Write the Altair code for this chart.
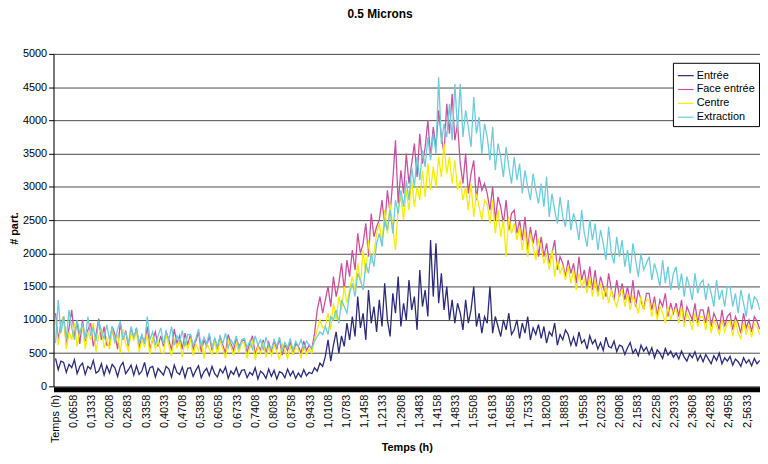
import altair as alt
import pandas as pd

FONT = "Liberation Sans, Arial, sans-serif"

series_names = ["Entrée", "Face entrée", "Centre", "Extraction"]
series_colors = ["#2A2A78", "#C8509F", "#F5EC00", "#6CCBDC"]

tick_labels = ["Temps (h)", "0,0658", "0,1333", "0,2008", "0,2683", "0,3358", "0,4033",
               "0,4708", "0,5383", "0,6058", "0,6733", "0,7408", "0,8083", "0,8758",
               "0,9433", "1,0108", "1,0783", "1,1458", "1,2133", "1,2808", "1,3483",
               "1,4158", "1,4833", "1,5508", "1,6183", "1,6858", "1,7533", "1,8208",
               "1,8883", "1,9558", "2,0233", "2,0908", "2,1583", "2,2258", "2,2933",
               "2,3608", "2,4283", "2,4958", "2,5633"]
header_pos = -0.0017

entree = [
    420, 250, 380, 360, 210, 330, 280, 400, 190, 300,
    350, 180, 300, 260, 390, 200, 230, 340, 170, 310,
    200, 330, 280, 150, 300, 360, 190, 250, 320, 170,
    310, 180, 230, 360, 160, 280, 300, 140, 270, 220,
    170, 300, 260, 140, 320, 210, 180, 290, 130, 270,
    280, 150, 240, 310, 130, 220, 270, 160, 300, 190,
    140, 260, 200, 290, 120, 230, 180, 280, 150, 240,
    250, 130, 210, 170, 280, 110, 230, 190, 120, 260,
    150, 240, 110, 220, 200, 130, 260, 160, 230, 120,
    200, 140, 250, 160, 210, 190, 280, 230, 350, 300,
    450, 700, 380, 620, 820, 500, 760, 600, 950, 700,
    1050, 750, 1350, 880, 1100, 700, 1450, 950, 1200, 820,
    1300, 900, 1550, 1000, 750, 1400, 1100, 1650, 900, 1250,
    1000, 1600, 1150, 1350, 850, 1750, 1200, 1450, 1050, 2200,
    1350, 2150, 1250, 1700, 1150, 1500, 1000, 1300, 950, 1250,
    1100, 850, 1300, 950, 1150, 1500, 900, 1100, 800, 1050,
    950, 1500, 800, 1050, 900, 750, 1000, 850, 1100, 780,
    850, 1000, 720, 950, 800, 1050, 700, 880, 780, 930,
    720, 900, 650, 820, 760, 950, 620, 780, 700, 850,
    780, 620, 740, 600, 820, 650, 700, 560, 760, 640,
    700, 560, 660, 540, 740, 600, 580, 680, 520, 620,
    600, 480, 580, 660, 500, 560, 460, 620, 530, 590,
    480, 580, 430, 550, 500, 420, 570, 470, 530, 440,
    500, 410, 530, 440, 380, 490, 430, 520, 390, 470,
    370, 480, 410, 340, 460, 390, 500, 340, 430, 380,
    450, 320, 410, 370, 300, 430, 350, 400, 310, 420,
    340, 390,
]

face_entree = [
    1100, 700, 950, 1050, 620, 880, 1150, 750, 980, 640,
    1000, 680, 850, 950, 600, 780, 1020, 700, 900, 620,
    620, 900, 780, 560, 950, 700, 840, 600, 880, 720,
    880, 580, 760, 650, 900, 560, 700, 820, 600, 760,
    600, 820, 700, 540, 860, 650, 760, 560, 800, 620,
    780, 560, 680, 820, 520, 700, 600, 760, 540, 720,
    560, 740, 620, 500, 780, 640, 540, 720, 600, 680,
    700, 520, 640, 760, 480, 620, 540, 700, 500, 660,
    520, 680, 560, 720, 470, 620, 540, 660, 480, 640,
    600, 500, 680, 540, 620, 560, 800, 1150, 1350, 1100,
    1300, 1500, 1200, 1650, 1350, 1550, 1850, 1450, 1900, 1650,
    2050, 1750, 2300, 2000, 2150, 2450, 1950, 2600, 2250, 2400,
    2500, 2800, 2400, 2950, 2600, 3100, 3700, 2750, 3250, 2900,
    3500, 3050, 3350, 3650, 3150, 3800, 3350, 3600, 4000, 3450,
    3900, 3600, 4150, 3750, 3500, 4250, 3800, 4400, 3700, 3950,
    3350, 3050, 3500, 2900, 3200, 3400, 2800, 3150, 2950, 3050,
    2900, 2650, 3000, 2500, 2850, 2700, 2450, 2800, 2350, 2600,
    2650, 2300, 2500, 2200, 2550, 2050, 2400, 2150, 2350, 1950,
    2250, 1950, 2150, 1850, 2000, 2200, 1750, 1950, 1850, 1650,
    1900, 1700, 1850, 1550, 1950, 1600, 1750, 1500, 1800, 1450,
    1750, 1400, 1650, 1500, 1350, 1700, 1450, 1300, 1600, 1350,
    1550, 1300, 1500, 1250, 1600, 1200, 1450, 1300, 1150, 1400,
    1400, 1150, 1350, 1050, 1300, 1200, 1400, 1050, 1250, 1100,
    1250, 1050, 1300, 950, 1200, 1100, 1000, 1250, 950, 1150,
    1150, 950, 1200, 900, 1100, 1000, 850, 1150, 900, 1050,
    1100, 850, 1050, 950, 800, 1100, 880, 1000, 820, 1050,
    980, 860,
]

centre = [
    1000, 620, 900, 1050, 560, 820, 700, 950, 600, 850,
    900, 560, 820, 700, 950, 520, 760, 880, 580, 720,
    560, 840, 660, 780, 500, 860, 640, 540, 800, 700,
    820, 520, 700, 600, 780, 480, 740, 560, 680, 520,
    500, 760, 620, 460, 720, 580, 680, 440, 700, 560,
    720, 460, 640, 540, 700, 420, 660, 560, 480, 680,
    480, 680, 560, 420, 700, 600, 460, 640, 520, 660,
    640, 420, 580, 680, 400, 600, 500, 660, 440, 600,
    460, 620, 520, 400, 640, 540, 420, 600, 480, 580,
    560, 420, 620, 480, 560, 500, 700, 850, 1000, 880,
    900, 1100, 850, 1250, 1000, 1350, 1150, 1500, 1250, 1450,
    1650, 1450, 1850, 1550, 2050, 1700, 2200, 1850, 2000, 2300,
    2450, 2150, 2650, 2300, 2750, 2400, 2050, 2700, 2850, 2500,
    2950, 2650, 3100, 2700, 3000, 2800, 3250, 2850, 3350, 2950,
    3300, 3000, 3450, 3150, 3650, 3200, 3450, 3050, 3400, 2950,
    3100, 2800, 3000, 2650, 3050, 2550, 2900, 2700, 2500, 2800,
    2750, 2450, 2800, 2300, 2650, 2250, 2500, 1950, 2550, 2300,
    2450, 2200, 2400, 2050, 2350, 1950, 2300, 2100, 1900, 2200,
    2100, 1850, 2000, 1750, 2050, 1650, 1900, 1700, 1800, 1600,
    1800, 1550, 1750, 1450, 1700, 1500, 1600, 1400, 1650, 1350,
    1600, 1350, 1550, 1300, 1500, 1250, 1450, 1300, 1200, 1400,
    1450, 1200, 1400, 1150, 1350, 1250, 1100, 1350, 1150, 1300,
    1300, 1050, 1250, 1000, 1200, 1100, 950, 1200, 1000, 1150,
    1150, 950, 1200, 900, 1100, 1000, 850, 1100, 900, 1050,
    1050, 850, 1100, 800, 1000, 900, 780, 1000, 820, 950,
    980, 750, 1000, 800, 720, 960, 780, 920, 740, 940,
    900, 780,
]

extraction = [
    650, 1300, 800, 1050, 720, 1150, 880, 700, 1000, 780,
    950, 700, 1050, 760, 880, 680, 980, 820, 720, 930,
    700, 900, 650, 860, 980, 700, 820, 640, 900, 740,
    860, 660, 780, 640, 1050, 700, 820, 620, 760, 880,
    640, 820, 700, 900, 620, 760, 660, 840, 600, 780,
    780, 620, 720, 860, 600, 740, 640, 800, 580, 720,
    600, 760, 640, 800, 580, 700, 620, 760, 560, 700,
    720, 580, 680, 560, 760, 620, 700, 540, 740, 600,
    560, 700, 600, 740, 540, 660, 580, 720, 540, 680,
    600, 700, 560, 680, 620, 580, 680, 750, 820, 780,
    900, 780, 1050, 1000, 1150, 950, 1300, 1200, 1100, 1400,
    1550, 1350, 1700, 1600, 1450, 1850, 1700, 2000, 1800, 2150,
    2300, 2100, 2500, 2350, 2650, 2300, 2800, 2600, 2950, 2700,
    3100, 2800, 3300, 3000, 3450, 3100, 3550, 3300, 3750, 3400,
    3800, 3500, 4650, 3650, 3950, 3750, 4250, 3700, 4550, 3850,
    4550, 3750, 4150, 3900, 3600, 4350, 3800, 4050, 3500, 3950,
    3750, 3400, 3900, 3250, 3650, 3450, 3150, 3600, 3300, 3050,
    3450, 3100, 3350, 2900, 3250, 3000, 2800, 3200, 2950, 2750,
    3050, 2700, 3150, 2550, 2900, 2650, 2450, 2850, 2550, 2400,
    2800, 2350, 2600, 2450, 2200, 2650, 2300, 2100, 2500, 2200,
    2450, 2050, 2350, 2150, 1900, 2400, 2000, 1850, 2250, 1950,
    2200, 1800, 2050, 1700, 2150, 1900, 1650, 2000, 1750, 1850,
    1950, 1600, 1850, 1700, 1500, 1900, 1550, 1800, 1450, 1700,
    1800, 1450, 1700, 1350, 1650, 1500, 1300, 1700, 1400, 1550,
    1600, 1300, 1550, 1400, 1200, 1600, 1300, 1450, 1200, 1500,
    1500, 1200, 1400, 1100, 1450, 1250, 1050, 1400, 1150, 1350,
    1300, 1150,
]

all_series = [entree, face_entree, centre, extraction]
n = len(entree)
times = [round(i * 0.01, 2) for i in range(n)]

tick_positions = [header_pos] + [float(s.replace(",", ".")) for s in tick_labels[1:]]

color = alt.Color(
    "series:N",
    scale=alt.Scale(domain=series_names, range=series_colors),
    legend=alt.Legend(
        title=None, orient="none", legendX=626, legendY=9,
        symbolType="stroke", symbolSize=256, symbolStrokeWidth=1.2,
        labelFont=FONT, labelFontSize=11, labelColor="black", labelOffset=2,
        strokeColor="black", fillColor="white", padding=4, rowPadding=0,
        cornerRadius=0,
    ),
)

x_axis = alt.Axis(
    values=tick_positions,
    labelExpr="datum.value < 0 ? 'Temps (h)' : replace(format(datum.value, '.4f'), '.', ',')",
    labelAngle=270, labelFont=FONT, labelFontSize=11, labelColor="black",
    labelOverlap=False, labelFlush=False, labelPadding=5,
    ticks=False, grid=False, domainWidth=5, domainColor="black", offset=3,
    title="Temps (h)", titleFont=FONT, titleFontSize=11, titleFontWeight="bold",
    titleColor="black", titleY=62, titleBaseline="alphabetic",
)
y_axis = alt.Axis(
    values=list(range(0, 5001, 500)), format="d",
    labelFont=FONT, labelFontSize=11, labelColor="black", labelPadding=2,
    tickSize=5, tickColor="black", domainColor="black",
    gridColor="#4a4a4a", gridWidth=1,
    title="# part.", titleFont=FONT, titleFontSize=11, titleFontWeight="bold",
    titleColor="black", titleX=-39, titleY=176, titleAngle=270,
    titleAlign="center", titleBaseline="middle",
)

layers = []
for name, vals in zip(series_names, all_series):
    df = pd.DataFrame({"t": times, "v": vals, "series": name})
    layers.append(
        alt.Chart(df).mark_line(strokeWidth=1.3, clip=True).encode(
            x=alt.X("t:Q", scale=alt.Scale(domain=[-0.0075, 2.611], nice=False, zero=False), axis=x_axis),
            y=alt.Y("v:Q", scale=alt.Scale(domain=[0, 5000], nice=False), axis=y_axis),
            color=color,
        )
    )

chart = alt.layer(*layers).properties(
    width=714, height=336,
    autosize=alt.AutoSizeParams(type="none"),
    padding={"left": 46, "top": 44, "right": 0, "bottom": 68},
    title=alt.TitleParams("0.5 Microns", font=FONT, fontSize=12, fontWeight="bold",
                          color="black", anchor="middle", dx=-27, offset=27),
).configure_view(stroke=None).configure(background="white")

chart.save("out.html", embed_options={"renderer": "svg", "actions": False})
